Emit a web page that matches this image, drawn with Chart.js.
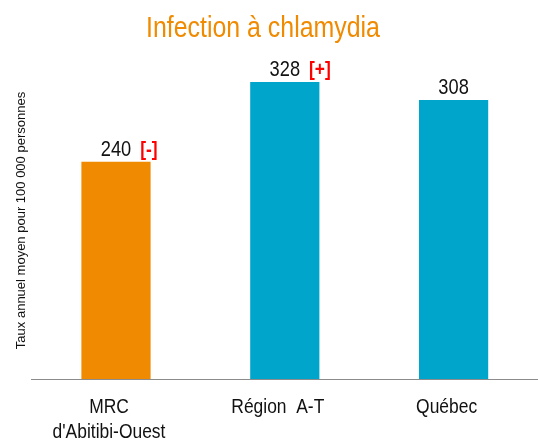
<!DOCTYPE html>
<html>
<head>
<meta charset="utf-8">
<script src="https://cdn.jsdelivr.net/npm/chart.js@4/dist/chart.umd.min.js"></script>
<style>
  html, body { margin: 0; padding: 0; background: #fff; }
  #wrap { width: 538px; height: 441px; }
</style>
</head>
<body>
<div id="wrap"><canvas id="chart"></canvas></div>
<script>
const categories = [['MRC', "d'Abitibi-Ouest"], 'Région  A-T', 'Québec'];
const taux = [240, 328, 308];
const signes = ['[-]', '[+]', ''];
const couleurs = ['#F08A00', '#00A5CC', '#00A5CC'];
const titre = 'Infection à chlamydia';

const police = "'Liberation Sans', Arial, sans-serif";
const SERRE = 0.83; // pas de police étroite installée : on compresse le texte

function texteSerre(ctx, txt, x, y, align) {
    const w = ctx.measureText(txt).width * SERRE;
    let x0 = x;
    if (align === 'center') x0 = x - w / 2;
    else if (align === 'right') x0 = x - w;
    ctx.save();
    ctx.translate(x0, y);
    ctx.scale(SERRE, 1);
    ctx.textAlign = 'left';
    ctx.fillText(txt, 0, 0);
    ctx.restore();
    return w;
}

// titre, valeurs au-dessus des barres, étiquettes de l'axe x
const textes = {
    id: 'textes',
    afterDraw(chart) {
        const ctx = chart.ctx;
        const meta = chart.getDatasetMeta(0);
        const xs = chart.scales.x;
        const bas = chart.chartArea.bottom;
        ctx.save();
        ctx.textBaseline = 'alphabetic';

        ctx.font = '30px ' + police;
        ctx.fillStyle = '#F08A00';
        texteSerre(ctx, titre, 263, 37, 'center');

        meta.data.forEach((bar, i) => {
            const y = bar.y - 6;
            ctx.font = '22px ' + police;
            ctx.fillStyle = '#111';
            const w = texteSerre(ctx, String(taux[i]), bar.x, y, 'center');
            if (signes[i]) {
                ctx.font = 'bold 21px ' + police;
                ctx.fillStyle = '#FF0000';
                texteSerre(ctx, signes[i], bar.x + w / 2 + 9, y, 'left');
            }
        });

        ctx.font = '21px ' + police;
        ctx.fillStyle = '#111';
        categories.forEach((c, i) => {
            const lignes = Array.isArray(c) ? c : [c];
            const x = xs.getPixelForValue(i) - 7;
            lignes.forEach((l, j) => {
                texteSerre(ctx, l, x, bas + 34 + j * 25, 'center');
            });
        });
        ctx.restore();
    }
};

new Chart(document.getElementById('chart'), {
    type: 'bar',
    data: {
        labels: categories,
        datasets: [{ data: taux, backgroundColor: couleurs, categoryPercentage: 1, barPercentage: 0.41 }]
    },
    options: {
        responsive: true, maintainAspectRatio: false, animation: false,
        layout: { padding: { left: 14, right: 0, top: 62, bottom: 62 } },
        scales: {
            x: {
                grid: { display: false, tickLength: 0 },
                border: { display: true, color: '#8C8C8C', width: 1 },
                ticks: { display: false }
            },
            y: {
                min: 0, max: 350,
                grid: { display: false, tickLength: 0 },
                border: { display: false },
                ticks: { display: false, padding: 0 },
                title: { display: true, text: 'Taux annuel moyen pour 100 000 personnes', color: '#111', font: { family: police, size: 13 }, padding: { top: 0, bottom: 2 } }
            }
        },
        plugins: {
            legend: { display: false },
            tooltip: { enabled: false },
            title: { display: false }
        }
    },
    plugins: [textes]
});
</script>
</body>
</html>
